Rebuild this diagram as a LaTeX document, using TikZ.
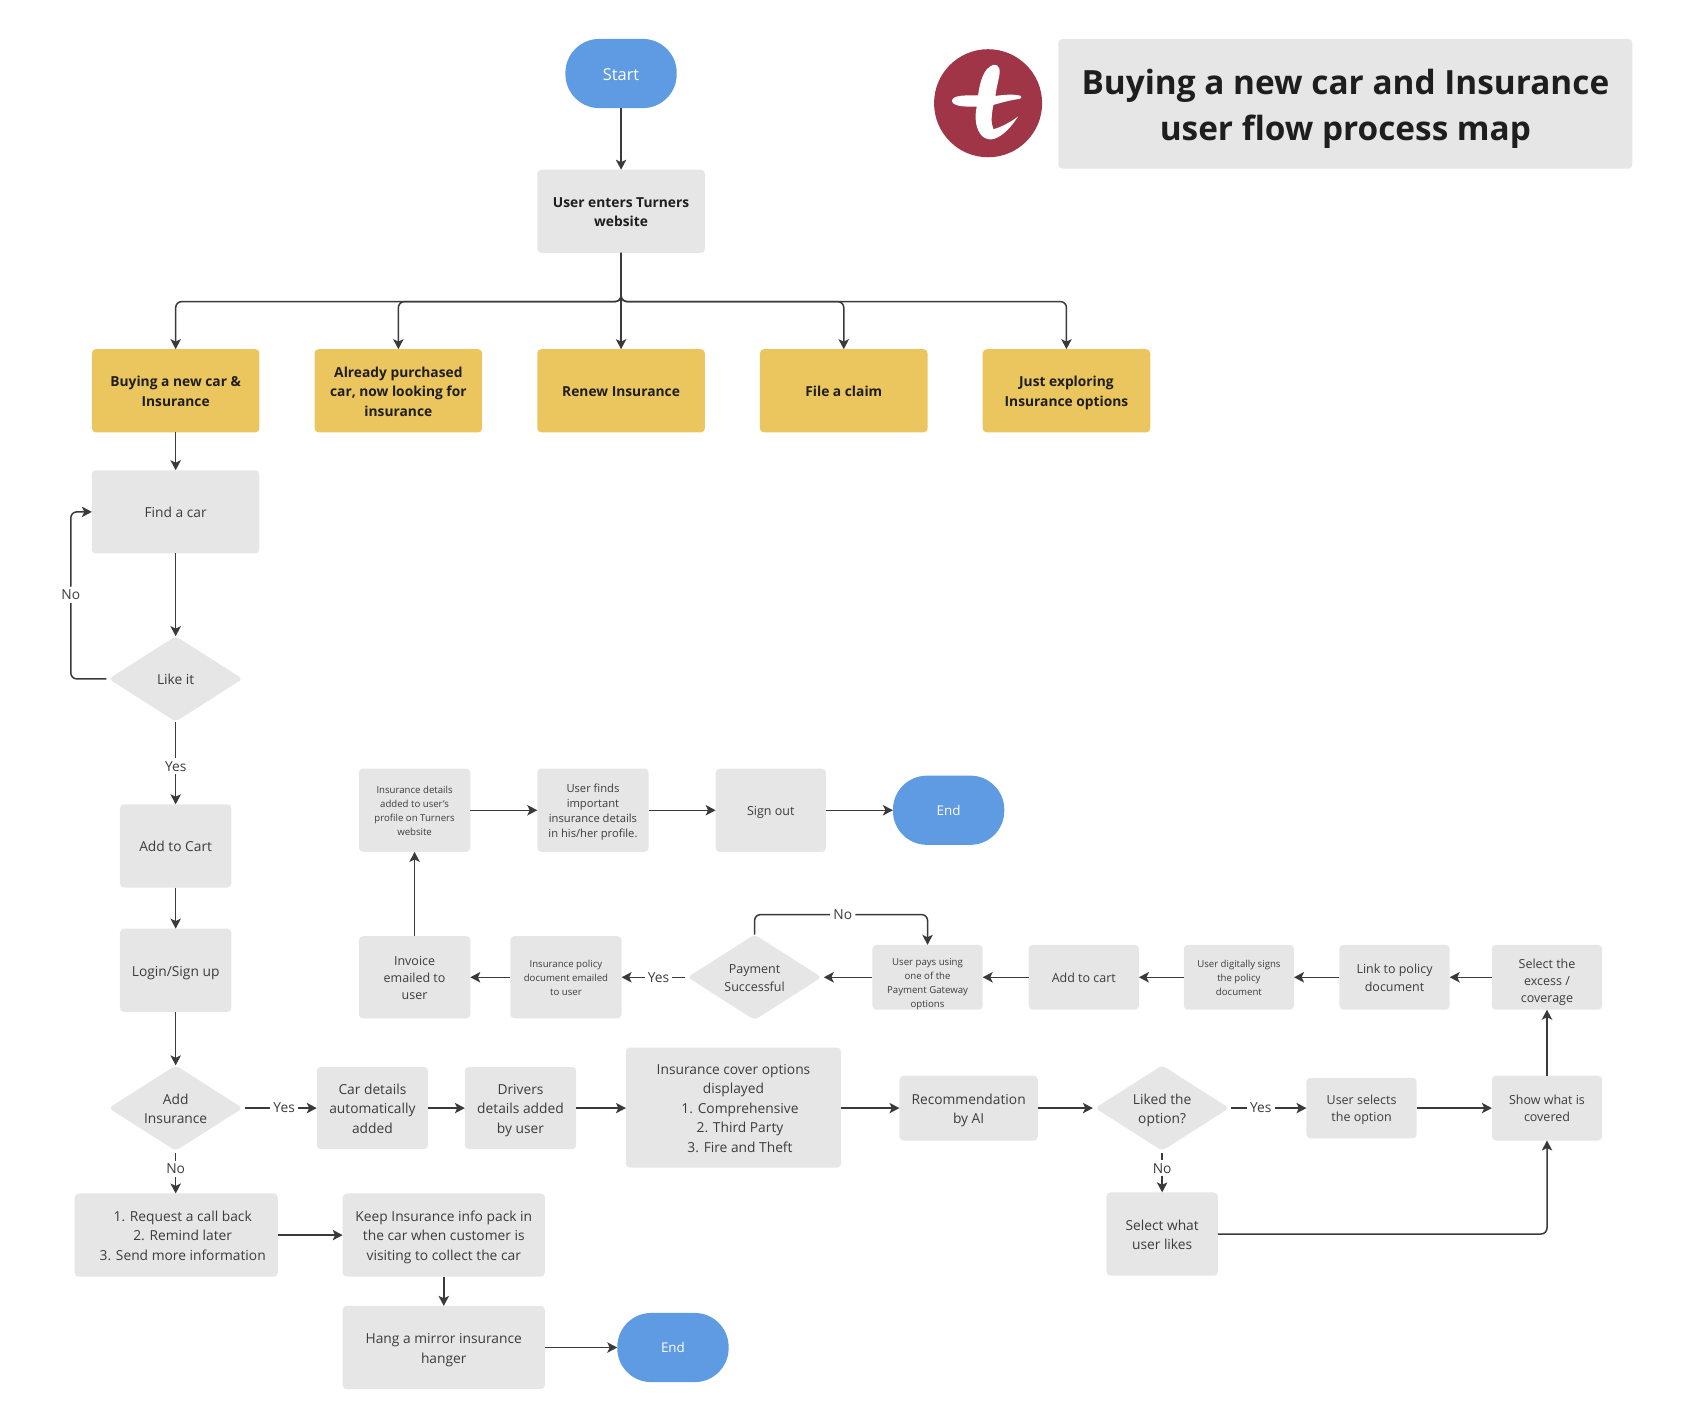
\documentclass[tikz,border=0pt]{standalone}
\usepackage{fontspec}
\setmainfont{Open Sans}
\usetikzlibrary{arrows.meta,shapes.geometric}
\definecolor{boxg}{HTML}{E6E6E6}
\definecolor{boxy}{HTML}{EBC65F}
\definecolor{boxb}{HTML}{5E9BE2}
\definecolor{logoc}{HTML}{A03547}
\definecolor{txt}{HTML}{3C3C3C}
\definecolor{txtd}{HTML}{1E1E1E}
\definecolor{linec}{HTML}{3A3A3A}
\newcommand\fA{\fontsize{6.9}{9.74}\selectfont}
\newcommand\fB{\fontsize{6.25}{8.66}\selectfont}
\newcommand\fC{\fontsize{4.82}{7.03}\selectfont}
\newcommand\fD{\fontsize{5.6}{7.58}\selectfont}
\newcommand\ind{\hspace*{6.5pt}}
\newcommand\topstrut{\rule{0pt}{.8\baselineskip}}
\newcommand\botstrut{\rule[-.2\baselineskip]{0pt}{0pt}}
\tikzset{
  base/.style={inner sep=0pt,outer sep=0pt,align=center,text=txt,font=\fA},
  grey/.style={base,rectangle,fill=boxg,rounded corners=2pt},
  yel/.style={base,rectangle,fill=boxy,rounded corners=2pt,text=txtd,font=\fA\bfseries},
  pill/.style={base,rectangle,fill=boxb,rounded corners=17pt,text=white},
  dia/.style={base,diamond,aspect=1.5,fill=boxg,rounded corners=2pt},
  conn/.style={draw=linec,line width=0.75pt,-{Stealth[length=5pt,width=5.2pt,inset=1.2pt]}},
  lab/.style={fill=white,inner sep=1.6pt,text=txt,font=\fA},
  gap/.style={shorten <=1.1pt},
  gapend/.style={shorten >=1.1pt},
  corner/.style={rounded corners=3pt}
}
\newcommand\bx[8][]{%
  \node[#2,minimum width={(#6-#4)*0.54121pt},minimum height={(#7-#5)*0.54121pt},#1] (#3) at ({(#4+#6)/2},{(#5+#7)/2}) {\topstrut #8\botstrut};}
\begin{document}
\begin{tikzpicture}[x=0.54121pt,y=-0.54121pt]
\useasboundingbox (0,0) rectangle (1567,1315.4);
% title and logo
\bx[font=\fontsize{16.7}{22.7}\selectfont\bfseries,text=txtd]{grey}{title}{979}{36}{1510}{156}{Buying a new car and Insurance\\user flow process map}
\node[circle,fill=logoc,minimum size=54.1pt,inner sep=0pt] (logo) at (914,95.5) {};
\begin{scope}[shift={(914,95.5)},x=0.16668pt,y=-0.16668pt,shift={(-190,-190)}]
\fill[white] (205,75) .. controls (225,72) and (228,90) .. (222,115) .. controls (218,135) and (214,150) .. (212,168) .. controls (240,164) and (270,162) .. (288,168) .. controls (292,172) and (290,176) .. (284,177) .. controls (260,180) and (230,188) .. (206,195) .. controls (200,225) and (198,250) .. (206,268) .. controls (230,262) and (260,245) .. (280,230) .. controls (262,258) and (235,290) .. (205,298) .. controls (180,302) and (160,285) .. (154,250) .. controls (151,230) and (153,215) .. (156,200) .. controls (130,200) and (100,202) .. (85,190) .. controls (78,184) and (82,176) .. (92,171) .. controls (110,165) and (135,167) .. (160,166) .. controls (165,130) and (175,85) .. (205,75) -- cycle;
\end{scope}
% top
\bx[font=\fontsize{8.2}{11}\selectfont]{pill}{start}{523}{36}{626}{100}{Start}
\bx[font=\fA\bfseries,text=txtd]{grey}{enter}{497}{157}{652}{234}{User enters Turners\\website}
\bx{yel}{y1}{85}{323}{240}{400}{Buying a new car \&\\Insurance}
\bx{yel}{y2}{291}{323}{446}{400}{Already purchased\\car, now looking for\\insurance}
\bx{yel}{y3}{497}{323}{652}{400}{Renew Insurance}
\bx{yel}{y4}{703}{323}{858}{400}{File a claim}
\bx{yel}{y5}{909}{323}{1064}{400}{Just exploring\\Insurance options}
% left column
\bx{grey}{find}{85}{435}{240}{512}{Find a car}
\bx{dia}{like}{100.5}{588.5}{224.5}{667.5}{Like it}
\bx{grey}{cart}{111}{744}{214}{821}{Add to Cart}
\bx{grey}{login}{111}{859}{214}{936}{Login/Sign up}
\bx{dia}{addins}{100.5}{985.5}{224.5}{1064.5}{Add\\Insurance}
\bx{grey}{req}{69}{1104}{257}{1181}{\ind 1. Request a call back\\\ind 2. Remind later\\\ind 3. Send more information}
\bx{grey}{keep}{317}{1104}{504}{1181}{Keep Insurance info pack in\\the car when customer is\\visiting to collect the car}
\bx{grey}{hang}{317}{1208}{504}{1285}{Hang a mirror insurance\\hanger}
\bx[font=\fontsize{6.7}{9}\selectfont]{pill}{end2}{571}{1214.5}{674}{1278.5}{End}
% middle row
\bx{grey}{car}{293}{987}{396}{1063}{Car details\\automatically\\added}
\bx{grey}{drv}{430}{987}{533}{1063}{Drivers\\details added\\by user}
\bx{grey}{cover}{579}{969}{778}{1080}{Insurance cover options\\displayed\\\ind 1. Comprehensive\\\ind 2. Third Party\\\ind 3. Fire and Theft}
\bx{grey}{reco}{832}{995}{960}{1055}{Recommendation\\by AI}
\bx{dia}{liked}{1013}{985.5}{1137}{1064.5}{Liked the\\option?}
\bx[font=\fB]{grey}{sel}{1208.5}{997}{1310.5}{1053}{User selects\\the option}
\bx[font=\fB]{grey}{show}{1380}{995}{1482}{1055}{Show what is\\covered}
\bx{grey}{what}{1023.5}{1103}{1126.5}{1180}{Select what\\user likes}
% upper row
\bx[label={[base,font=\fB,yshift=-2.4pt]center:Select the\\excess /\\coverage}]{grey}{exc}{1380}{874}{1482}{934}{}
\bx[font=\fB]{grey}{link}{1239}{874}{1341}{934}{Link to policy\\document}
\bx[font=\fC]{grey}{sign}{1095}{874}{1197}{934}{User digitally signs\\the policy\\document}
\bx[font=\fB]{grey}{cart2}{951.5}{874}{1053.5}{934}{Add to cart}
\bx[label={[base,font=\fC,yshift=-3.5pt]center:User pays using\\one of the\\Payment Gateway\\options}]{grey}{pays}{807}{874}{909}{934}{}
\bx[font=\fB]{dia}{pay}{636}{864.5}{760}{943.5}{Payment\\Successful}
\bx[font=\fC]{grey}{pol}{472}{866}{575}{942}{Insurance policy\\document emailed\\to user}
\bx[font=\fB]{grey}{inv}{332}{866}{435}{942}{Invoice\\emailed to\\user}
\bx[font=\fC]{grey}{det}{332}{711}{435}{788}{Insurance details\\added to user's\\profile on Turners\\website}
\bx[font=\fD]{grey}{finds}{497}{711}{600}{788}{User finds\\important\\insurance details\\in his/her profile.}
\bx[font=\fB]{grey}{out}{662}{711}{764}{788}{Sign out}
\bx[font=\fontsize{6.7}{9}\selectfont]{pill}{end1}{826}{717.5}{929}{781.5}{End}
% connectors
\draw[conn] (start) -- (enter);
\draw[conn,corner] (enter.south) -- ++(0,45) -| (y1.north);
\draw[conn,corner] (enter.south) -- ++(0,45) -| (y2.north);
\draw[conn] (enter.south) -- (y3.north);
\draw[conn,corner] (enter.south) -- ++(0,45) -| (y4.north);
\draw[conn,corner] (enter.south) -- ++(0,45) -| (y5.north);
\draw[conn] (y1) -- (find);
\draw[conn] (find) -- (like);
\draw[conn,corner,gap] (like.west) -- ++(-35,0) |- (find.west) node[lab,pos=0.252] (no1) {No};
\draw[conn] (like) -- node[lab,pos=0.54] (yes1) {Yes} (cart);
\draw[conn] (cart) -- (login);
\draw[conn] (login) -- (addins);
\draw[conn,gap] (addins) -- node[lab,pos=0.56] (yes2) {Yes} (car);
\draw[conn,gap] (addins) -- node[lab,pos=0.42] (no2) {No} (req.north -| addins);
\draw[conn] (car) -- (drv);
\draw[conn] (drv) -- (cover.west |- drv);
\draw[conn] (cover.east |- reco) -- (reco);
\draw[conn,gapend] (reco) -- (liked);
\draw[conn,gap] (liked) -- node[lab,pos=0.41] (yes3) {Yes} (sel);
\draw[conn] (sel.east) -- (show.west);
\draw[conn,gap] (liked) -- node[lab,pos=0.42] (no3) {No} (what);
\draw[conn,corner] (what.east) -| (show.south);
\draw[conn] (show) -- (exc);
\draw[conn] (exc) -- (link);
\draw[conn] (link) -- (sign);
\draw[conn] (sign) -- (cart2);
\draw[conn] (cart2) -- (pays);
\draw[conn,gapend] (pays) -- (pay);
\draw[conn,corner] (pay.north) -- ++(0,-18.5) -| node[lab,pos=0.255] (no4) {No} (pays.north);
\draw[conn,gap] (pay) -- node[lab,pos=0.44] (yes4) {Yes} (pol);
\draw[conn] (pol) -- (inv);
\draw[conn] (inv) -- (det);
\draw[conn] (det) -- (finds);
\draw[conn] (finds) -- (out);
\draw[conn] (out.east) -- (end1.west);
\draw[conn] (req.east) -- (keep.west);
\draw[conn] (keep) -- (hang);
\draw[conn] (hang.east) -- (end2.west);
\end{tikzpicture}
\end{document}
